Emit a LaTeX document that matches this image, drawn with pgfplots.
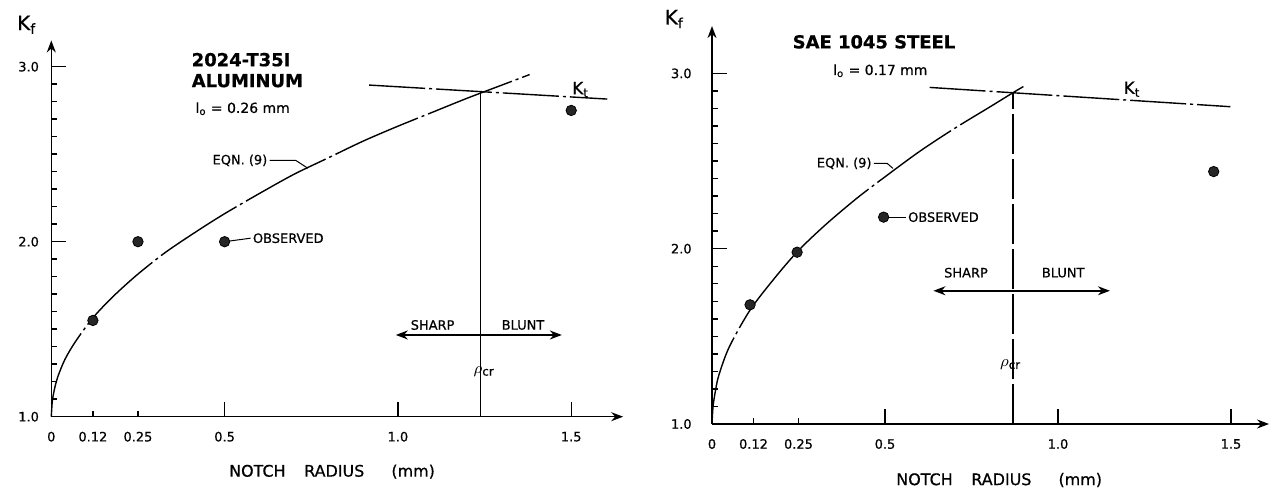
\documentclass[border=0pt]{standalone}
\usepackage{fontspec}
\setmainfont{DejaVu Sans}[FakeBold=0.6]
\usepackage{pgfplots}
\pgfplotsset{compat=1.18}
\usetikzlibrary{arrows.meta}

\newcommand\fs[1]{\fontsize{#1}{#1}\selectfont}
\newcommand\rcr{$\rho$\textsubscript{cr}}
\tikzset{lab/.style={font=\fs{6.5}}}

\pgfplotsset{
  notch/.style={
    axis lines=left,
    axis line style={line width=0.75bp, -{Stealth[length=6bp,width=4.5bp]}},
    tick align=inside,
    tick style={line width=0.7bp, black},
    major tick length=7.5bp,
    minor tick length=3bp,
    minor y tick num=9,
    xmin=0, ymin=1,
    ytick={1,2,3}, yticklabels={1.0,2.0,3.0},
    xtick={0.5,1,1.5}, xticklabels={0.5,1.0,1.5},
    extra x ticks={0,0.12,0.25}, extra x tick labels={0,0.12,0.25},
    extra x tick style={major tick length=2.8bp},
    ticklabel style={font=\fs{6.5}, inner sep=0pt},
    xticklabel style={anchor=center, yshift=-10bp},
    /pgf/number format/assume math mode=true,
    clip=false,
    anchor=south west,
  },
  eqn/.style={line width=0.7bp, black, smooth, tension=0.5, dash pattern=on 45bp off 2bp on 1.5bp off 2bp},
  kt/.style={line width=0.7bp, black, dash pattern=on 28bp off 2bp on 1.5bp off 2bp},
  lead/.style={line width=0.5bp, black},
  obs/.style={only marks, mark=*, mark size=2.6bp, mark options={fill=black!85, draw=black}},
}

\begin{document}
\begin{tikzpicture}
\useasboundingbox (0,0) rectangle (636bp,245.5bp);

% ---- left: 2024-T351 aluminum ----
\begin{axis}[notch, at={(25.65bp,37.15bp)}, x=173.3bp, y=87.5bp,
  xmax=1.65, ymax=3.15, yticklabel style={anchor=east, xshift=-6bp}]
\addplot[eqn] coordinates {
  (0,1.00) (0.003,1.09) (0.01,1.165) (0.02,1.235) (0.04,1.33) (0.07,1.43)
  (0.12,1.565) (0.18,1.69) (0.25,1.815) (0.33,1.94) (0.42,2.06) (0.5,2.16)
  (0.6,2.275) (0.7,2.385) (0.8,2.48) (0.9,2.575) (1.0,2.66) (1.1,2.74)
  (1.2,2.82) (1.3,2.895) (1.38,2.955)
};
\addplot[kt] coordinates {(0.917,2.895) (1.604,2.815)};
\addplot[line width=0.7bp] coordinates {(1.239,1) (1.239,2.857)};
\addplot[line width=0.75bp, {Stealth[length=6bp,width=4.5bp]}-{Stealth[length=6bp,width=4.5bp]}]
  coordinates {(0.994,1.467) (1.473,1.467)};
\addplot[lead] coordinates {(0.63,2.465) (0.705,2.465) (0.74,2.42)};
\addplot[lead] coordinates {(0.5,2.0) (0.575,2.02)};
\addplot[obs] coordinates {(0.12,1.55) (0.25,2.0) (0.5,2.0) (1.5,2.75)};
\node[font=\fs{10}] at (axis cs:-0.071,3.24) {K\textsubscript{f}};
\node[font=\bfseries\fs{9}, anchor=west] at (axis cs:0.385,3.04) {2024-T35I};
\node[font=\bfseries\fs{9}, anchor=west] at (axis cs:0.385,2.92) {ALUMINUM};
\node[font=\fs{7}, anchor=west] at (axis cs:0.396,2.76) {l\textsubscript{o} = 0.26 mm};
\node[lab, anchor=east, inner sep=1bp] at (axis cs:0.63,2.465) {EQN. (9)};
\node[lab, anchor=west, inner sep=1bp] at (axis cs:0.575,2.02) {OBSERVED};
\node[font=\fs{8.5}] at (axis cs:1.527,2.87) {K\textsubscript{t}};
\node[lab] at (axis cs:1.10,1.524) {SHARP};
\node[lab] at (axis cs:1.361,1.524) {BLUNT};
\node[font=\fs{8.5}] at (axis cs:1.249,1.257) {\rcr};
\node[font=\fs{8}] at (axis cs:0.81,0.686) {NOTCH\hspace{1.17em}RADIUS\hspace{1.7em}(mm)};
\end{axis}

% ---- right: SAE 1045 steel ----
\begin{axis}[notch, at={(356bp,33.5bp)}, x=173bp, y=87.65bp,
  xmax=1.61, ymax=3.27, yticklabel style={anchor=east, xshift=-10bp}]
\addplot[eqn] coordinates {
  (0,1.00) (0.003,1.10) (0.01,1.19) (0.02,1.28) (0.05,1.44) (0.11,1.65)
  (0.18,1.83) (0.25,1.99) (0.33,2.14) (0.42,2.29) (0.5,2.41) (0.6,2.555)
  (0.7,2.685) (0.8,2.805) (0.87,2.89) (0.9,2.925)
};
\addplot[kt] coordinates {(0.629,2.92) (1.498,2.81)};
\addplot[line width=0.55bp, dash pattern=on 20bp off 2.5bp] coordinates {(0.87,1) (0.87,2.89)};
\addplot[line width=0.75bp, {Stealth[length=6bp,width=4.5bp]}-{Stealth[length=6bp,width=4.5bp]}]
  coordinates {(0.64,1.76) (1.15,1.76)};
\addplot[lead] coordinates {(0.468,2.487) (0.506,2.487) (0.523,2.458)};
\addplot[lead] coordinates {(0.496,2.18) (0.56,2.18)};
\addplot[obs] coordinates {(0.11,1.68) (0.246,1.98) (0.496,2.18) (1.45,2.44)};
\node[font=\fs{10}] at (axis cs:-0.109,3.31) {K\textsubscript{f}};
\node[font=\bfseries\fs{9}, anchor=west] at (axis cs:0.213,3.18) {SAE 1045 STEEL};
\node[font=\fs{7}, anchor=west] at (axis cs:0.33,3.015) {l\textsubscript{o} = 0.17 mm};
\node[lab, anchor=east, inner sep=1bp] at (axis cs:0.468,2.487) {EQN. (9)};
\node[lab, anchor=west, inner sep=1bp] at (axis cs:0.56,2.18) {OBSERVED};
\node[font=\fs{8.5}] at (axis cs:1.214,2.91) {K\textsubscript{t}};
\node[lab] at (axis cs:0.734,1.863) {SHARP};
\node[lab] at (axis cs:1.015,1.863) {BLUNT};
\node[font=\fs{8.5}] at (axis cs:0.863,1.336) {\rcr};
\node[font=\fs{8}] at (axis cs:0.83,0.68) {NOTCH\hspace{1.17em}RADIUS\hspace{1.7em}(mm)};
\end{axis}
\end{tikzpicture}
\end{document}
